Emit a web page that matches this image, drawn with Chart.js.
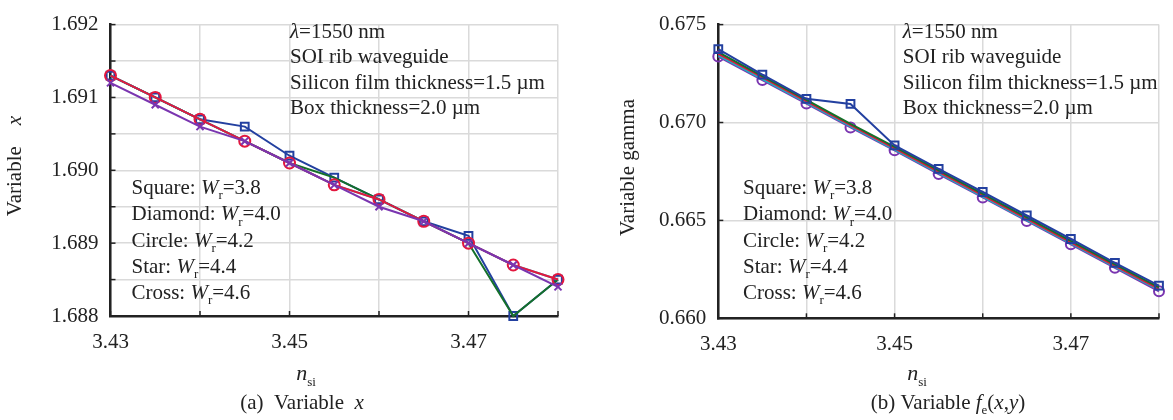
<!DOCTYPE html>
<html>
<head>
<title>Variable x and gamma</title>
<script src="https://cdn.jsdelivr.net/npm/chart.js"></script>
<style>
  body { margin: 0; background: #fff; }
  #wrap { position: relative; width: 1173px; height: 420px; }
  .pane { position: absolute; top: 0; height: 420px; }
</style>
</head>
<body>
<div id="wrap">
  <div class="pane" style="left:0;width:586px"><canvas id="chartX"></canvas></div>
  <div class="pane" style="left:586px;width:587px"><canvas id="chartG"></canvas></div>
</div>
<script>
// refractive index of silicon (x axis)
var nsi = [3.43, 3.435, 3.44, 3.445, 3.45, 3.455, 3.46, 3.465, 3.47, 3.475, 3.48];

// (a) variable x, one list per rib width Wr
var x38 = [1.6913, 1.6910, 1.6907, 1.6906, 1.6902, 1.6899, 1.6896, 1.6893, 1.6891, 1.6880, 1.6885];
var x40 = [1.6913, 1.6910, 1.6907, 1.6904, 1.6901, 1.6899, 1.6896, 1.6893, 1.6890, 1.6880, 1.6885];
var x42 = [1.6913, 1.6910, 1.6907, 1.6904, 1.6901, 1.6898, 1.6896, 1.6893, 1.6890, 1.6887, 1.6885];
var x44 = [1.6913, 1.6910, 1.6907, 1.6904, 1.6901, 1.6898, 1.6896, 1.6893, 1.6890, 1.6887, 1.6885];
var x46 = [1.6912, 1.6909, 1.6906, 1.6904, 1.6901, 1.6898, 1.6895, 1.6893, 1.6890, 1.6887, 1.6884];

// (b) variable gamma
var g38 = [0.67375, 0.67245, 0.67121, 0.67095, 0.66883, 0.66763, 0.66645, 0.66525, 0.66405, 0.66283, 0.66167];
var g40 = [0.67360, 0.67237, 0.67115, 0.66993, 0.66875, 0.66755, 0.66635, 0.66515, 0.66395, 0.66275, 0.66158];
var g42 = [0.67350, 0.67230, 0.67108, 0.66986, 0.66868, 0.66748, 0.66628, 0.66508, 0.66388, 0.66268, 0.66150];
var g44 = [0.67343, 0.67222, 0.67102, 0.66980, 0.66862, 0.66742, 0.66622, 0.66502, 0.66383, 0.66263, 0.66145];
var g46 = [0.67337, 0.67217, 0.67097, 0.66975, 0.66858, 0.66737, 0.66617, 0.66497, 0.66378, 0.66258, 0.66138];

// tick labels
var xTickLabels = ['3.43', '3.45', '3.47'];
var yTickLabelsX = ['1.688', '1.689', '1.690', '1.691', '1.692'];
var yTickLabelsG = ['0.660', '0.665', '0.670', '0.675'];

var infoLines = ['=1550 nm', 'SOI rib waveguide', 'Silicon film thickness=1.5 \u00b5m', 'Box thickness=2.0 \u00b5m'];
var legendNames = ['Square: ', 'Diamond: ', 'Circle: ', 'Star: ', 'Cross: '];
var legendWr = ['=3.8', '=4.0', '=4.2', '=4.4', '=4.6'];

var SERIF = '"Liberation Serif", "Times New Roman", serif';
var FS = 21;
var BLUE = '#2340a0', GREEN = '#14702a', RED = '#e3173e', CYAN = '#18b4c4', PURPLE = '#7a35b0';

function pts(ys) {
    return nsi.map(function (v, i) { return { x: v, y: ys[i] }; });
}

// draw a run of text pieces: {t, it (italic), sub (subscript)}
function rich(ctx, x, y, parts, size, align) {
    var total = 0;
    parts.forEach(function (p) {
        ctx.font = (p.it ? 'italic ' : '') + (p.sub ? Math.round(size * 0.6) : size) + 'px ' + SERIF;
        p.w = ctx.measureText(p.t).width;
        total += p.w;
    });
    if (align === 'center') x -= total / 2;
    parts.forEach(function (p) {
        ctx.font = (p.it ? 'italic ' : '') + (p.sub ? Math.round(size * 0.6) : size) + 'px ' + SERIF;
        ctx.fillText(p.t, x, y + (p.sub ? size * 0.38 : 0));
        x += p.w;
    });
}

var innerTicks = {
    id: 'innerTicks',
    afterDraw: function (chart) {
        var ctx = chart.ctx, a = chart.chartArea;
        ctx.save();
        ctx.strokeStyle = '#222';
        ctx.lineWidth = 1.5;
        chart.scales.y.ticks.forEach(function (t) {
            var y = chart.scales.y.getPixelForValue(t.value);
            ctx.beginPath(); ctx.moveTo(a.left, y); ctx.lineTo(a.left + 5, y); ctx.stroke();
        });
        chart.scales.x.ticks.forEach(function (t) {
            var x = chart.scales.x.getPixelForValue(t.value);
            ctx.beginPath(); ctx.moveTo(x, a.bottom); ctx.lineTo(x, a.bottom - 5); ctx.stroke();
        });
        ctx.restore();
    }
};

function textPlugin(o) {
    return {
        id: 'texts',
        afterDraw: function (chart) {
            var ctx = chart.ctx;
            ctx.save();
            ctx.fillStyle = '#222';
            ctx.textBaseline = 'middle';
            ctx.textAlign = 'left';
            // info block
            var iy = [32, 57.5, 83, 108.5];
            infoLines.forEach(function (s, i) {
                var parts = i === 0 ? [{ t: '\u03bb', it: true }, { t: s }] : [{ t: s }];
                rich(ctx, o.infoX, iy[i], parts, FS, 'left');
            });
            // marker legend
            var ly = [188, 214.5, 241, 267, 293];
            legendNames.forEach(function (s, i) {
                rich(ctx, o.legX, ly[i], [{ t: s }, { t: 'W', it: true }, { t: 'r', sub: true }, { t: legendWr[i] }], FS, 'left');
            });
            // x title
            rich(ctx, o.nX, 374, [{ t: 'n', it: true }, { t: 'si', sub: true }], 22, 'center');
            // caption
            rich(ctx, o.capX, 403, o.caption, FS, 'center');
            // y title
            ctx.translate(o.yTitleX, o.yTitleY);
            ctx.rotate(-Math.PI / 2);
            rich(ctx, 0, 0, o.yTitle, FS, 'center');
            ctx.restore();
        }
    };
}

function isLabel(v, decimals, list) {
    var s = v.toFixed(decimals);
    var k = Math.pow(10, decimals);
    if (Math.abs(v * k - Math.round(v * k)) > 1e-6) return '';
    return list.indexOf(s) >= 0 ? s : '';
}

function makeChart(id, o) {
    var ctx = document.getElementById(id).getContext('2d');
    return new Chart(ctx, {
        type: 'line',
        data: { datasets: o.datasets },
        options: {
            responsive: true,
            maintainAspectRatio: false,
            animation: false,
            layout: { padding: { top: o.top, right: o.right, left: 0, bottom: 0 } },
            plugins: { legend: { display: false }, tooltip: { enabled: false } },
            scales: {
                x: {
                    type: 'linear', min: 3.43, max: 3.48,
                    ticks: {
                        stepSize: 0.01, maxRotation: 0, padding: 14, color: '#222',
                        font: { family: SERIF, size: FS },
                        callback: function (v) { return isLabel(v, 2, xTickLabels); }
                    },
                    grid: { color: '#dadada', lineWidth: 1.5, drawTicks: false },
                    border: { color: '#222', width: 2.5 },
                    afterFit: function (s) { s.height = o.xH; }
                },
                y: {
                    min: o.yMin, max: o.yMax,
                    ticks: {
                        stepSize: o.yStep, padding: 12, color: '#222',
                        font: { family: SERIF, size: FS },
                        callback: function (v) { return isLabel(v, 3, o.yLabels); }
                    },
                    grid: { color: '#dadada', lineWidth: 1.5, drawTicks: false },
                    border: { color: '#222', width: 2.5 },
                    afterFit: function (s) { s.width = o.yW; }
                }
            }
        },
        plugins: [innerTicks, textPlugin(o)]
    });
}

function line(data, color, style, radius, order) {
    return {
        data: pts(data), borderColor: color, borderWidth: 2, tension: 0, clip: false,
        pointStyle: style, pointRadius: radius, pointBorderColor: color, pointBorderWidth: 2,
        pointBackgroundColor: 'rgba(0,0,0,0)', order: order
    };
}

makeChart('chartX', {
    top: 18, right: 28, yW: 110.5, xH: 104,
    yMin: 1.688, yMax: 1.692, yStep: 0.0005, yLabels: yTickLabelsX,
    infoX: 290, legX: 131.5, nX: 306, capX: 302,
    yTitleX: 15, yTitleY: 166,
    yTitle: [{ t: 'Variable    ' }, { t: 'x', it: true }],
    caption: [{ t: '(a)  Variable  ' }, { t: 'x', it: true }],
    datasets: [
        line(x38, BLUE, 'rect', 5.5, 4),
        line(x40, GREEN, 'rectRot', 0, 3),
        line(x42, RED, 'circle', 5.5, 1),
        line(x44, CYAN, 'star', 0, 2),
        line(x46, PURPLE, 'crossRot', 5, 0)
    ]
});

makeChart('chartG', {
    top: 18.3, right: 4.7, yW: 132.3, xH: 101.7,
    yMin: 0.660, yMax: 0.675, yStep: 0.005, yLabels: yTickLabelsG,
    infoX: 316.7, legX: 157, nX: 331, capX: 362,
    yTitleX: 42, yTitleY: 167.5,
    yTitle: [{ t: 'Variable gamma' }],
    caption: [{ t: '(b) Variable ' }, { t: 'f', it: true }, { t: 'e', sub: true }, { t: '(' }, { t: 'x', it: true }, { t: ',' }, { t: 'y', it: true }, { t: ')' }],
    datasets: [
        line(g38, BLUE, 'rect', 5.5, 0),
        line(g40, GREEN, 'rectRot', 0, 1),
        line(g42, RED, 'circle', 0, 2),
        line(g44, CYAN, 'star', 0, 3),
        line(g46, PURPLE, 'circle', 5, 4)
    ]
});
</script>
</body>
</html>
